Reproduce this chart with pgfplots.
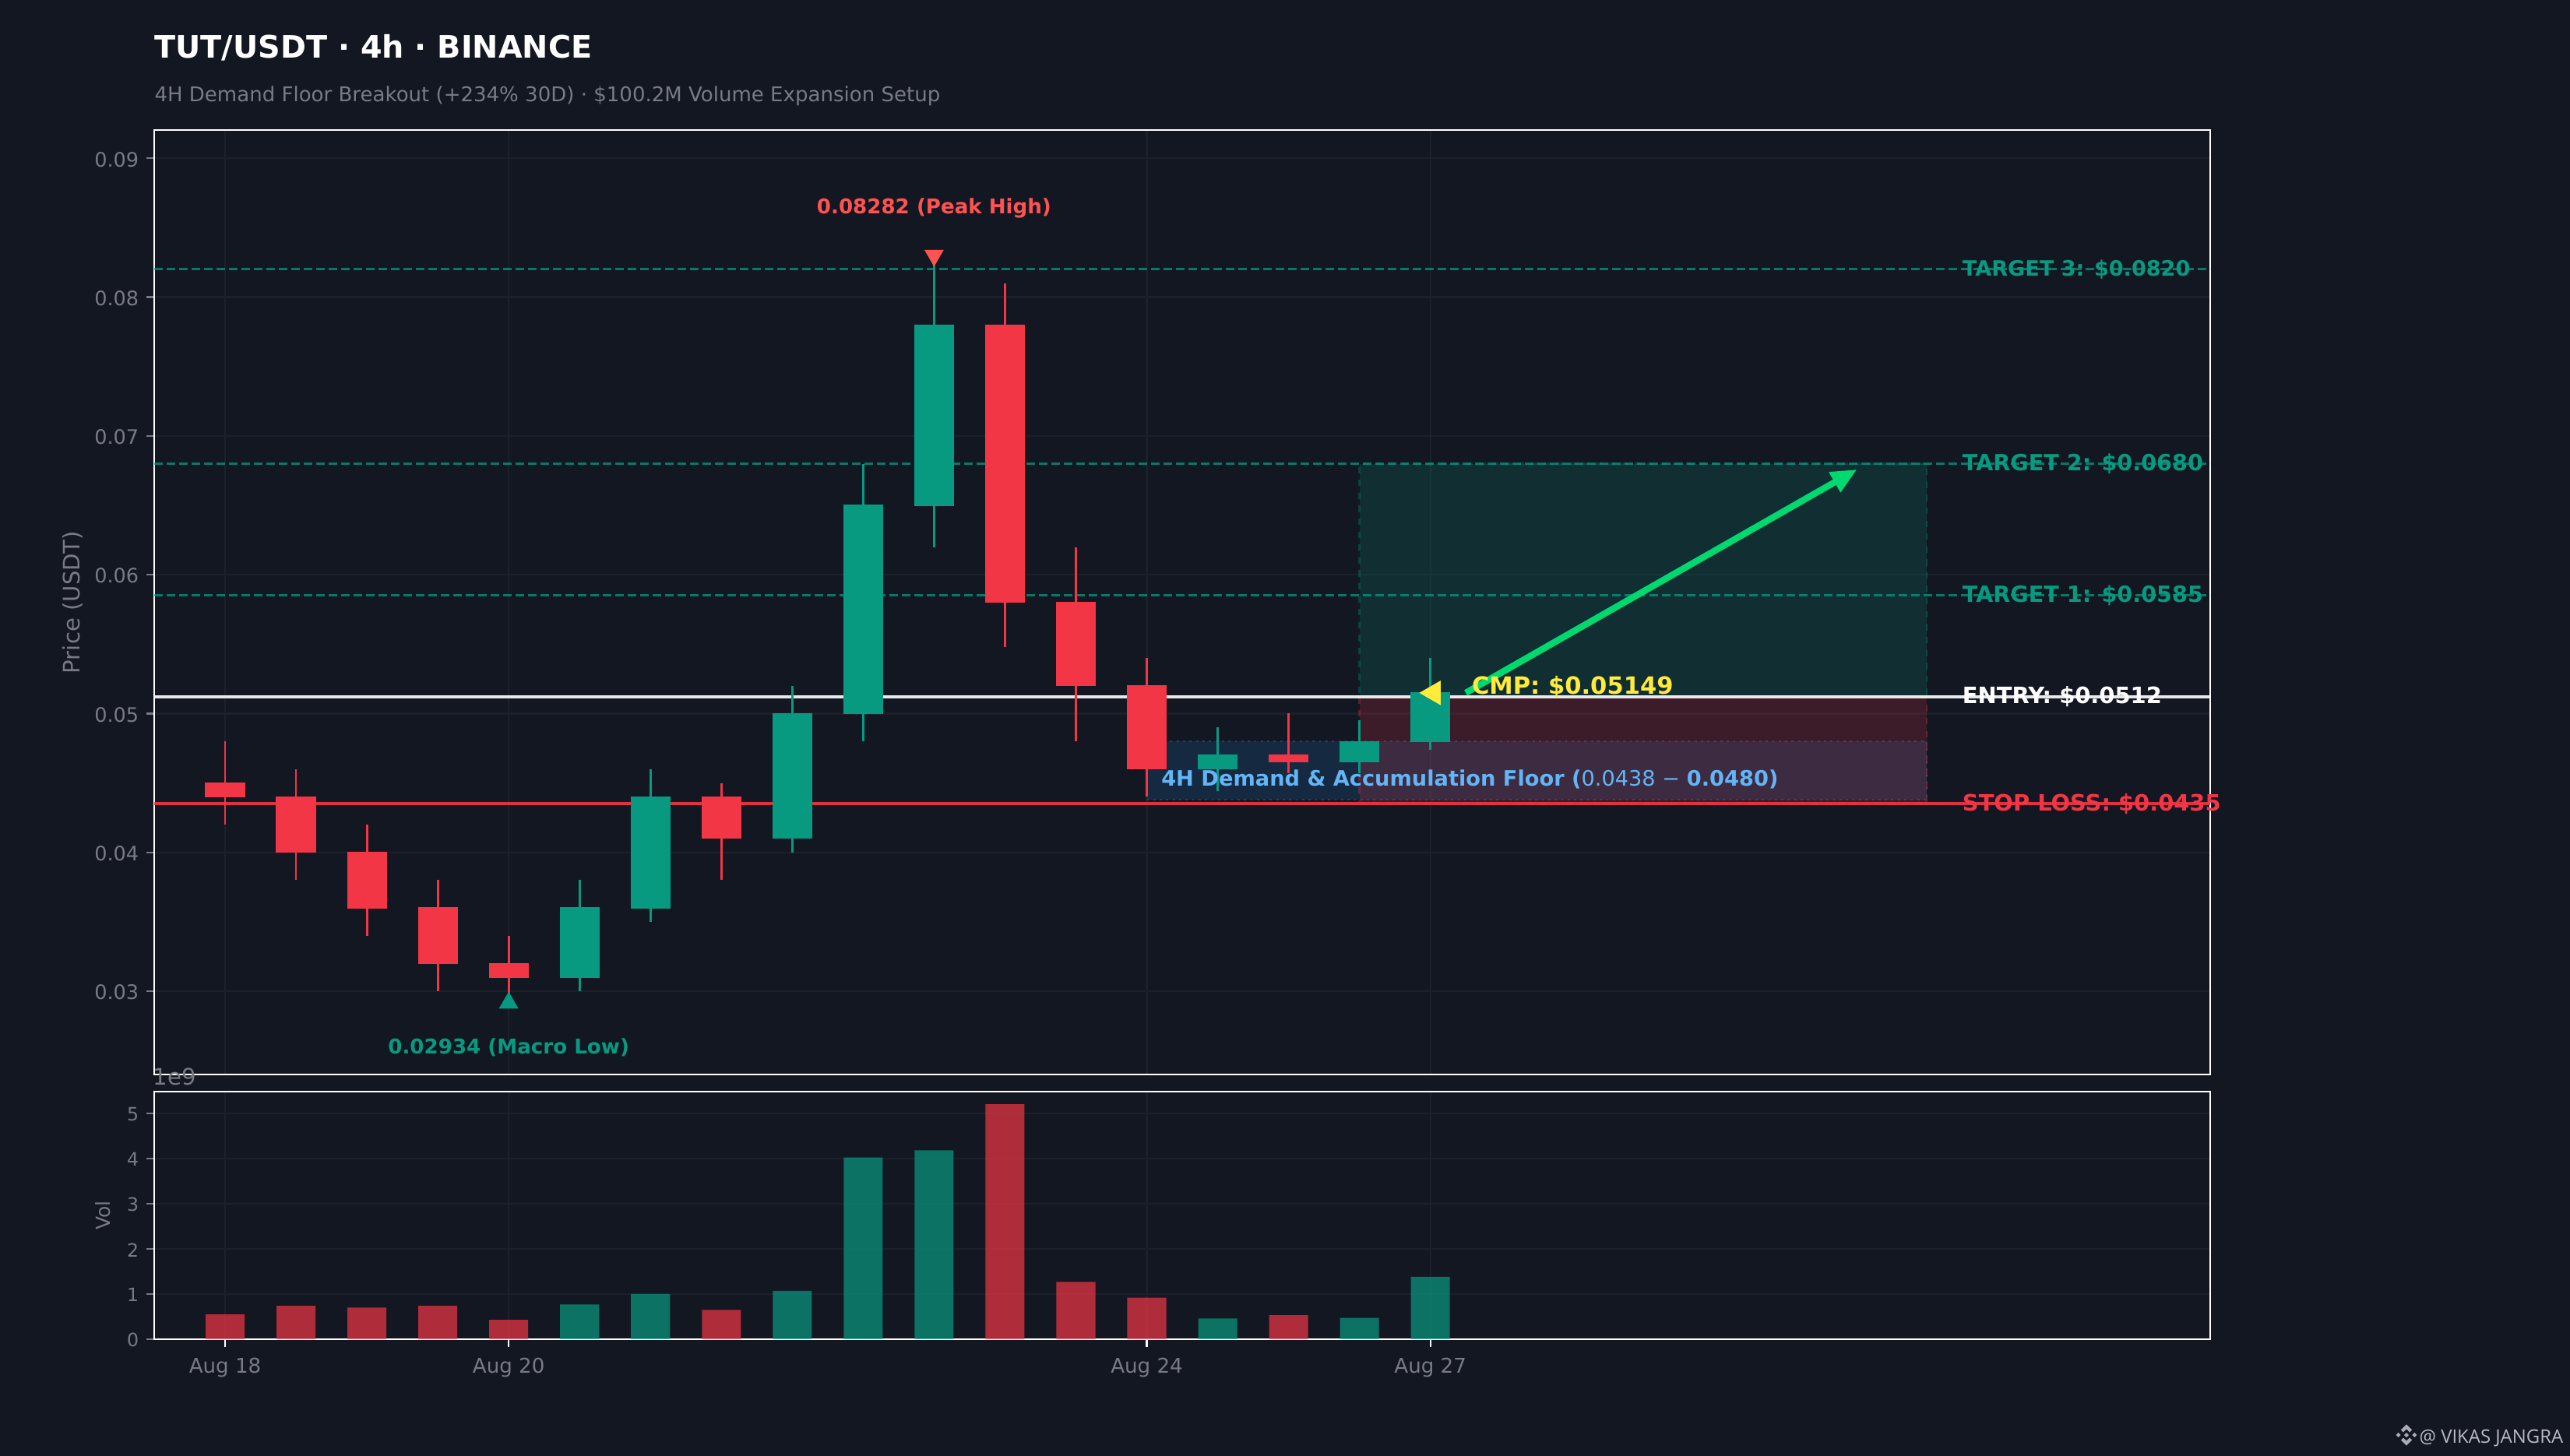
\documentclass[border=0pt]{standalone}
\usepackage{pgfplots}
\pgfplotsset{compat=1.18}
\usepackage{fontspec}
\setmainfont{DejaVu Sans}
\newfontfamily\wmfont{Open Sans}
\usetikzlibrary{arrows.meta}
\definecolor{bg}{HTML}{131722}
\definecolor{grn}{HTML}{089981}
\definecolor{rd}{HTML}{F23645}
\definecolor{gridc}{HTML}{1C202B}
\definecolor{txt}{HTML}{787B86}
\definecolor{blu}{HTML}{2196F3}
\definecolor{lblu}{HTML}{64B5F6}
\definecolor{yel}{HTML}{FFEB3B}
\definecolor{peak}{HTML}{FF5252}
\definecolor{arr}{HTML}{00D96F}
\definecolor{wm}{RGB}{183,186,196}
\newcommand\fs[1]{\fontsize{#1bp}{#1bp}\selectfont}
% idx, open, close, low, high, colour
\newcommand\candle[6]{%
  \addplot[#6,line width=1bp,forget plot] coordinates {(#1,#4)(#1,#5)};
  \addplot[draw=#6,fill=#6,line width=0.4bp,forget plot] coordinates {({#1-0.275},#2)({#1+0.275},#2)({#1+0.275},#3)({#1-0.275},#3)} --cycle;
}
\begin{document}
\begin{tikzpicture}[x=1bp,y=1bp]
\fill[bg] (0,0) rectangle (1188,673.2);
\path[use as bounding box] (0,0) rectangle (1188,673.2);
\node[anchor=base west,inner sep=0pt,white] at (71.28,646.5) {\fs{14.3}\bfseries TUT/USDT · 4h · BINANCE};
\node[anchor=base west,inner sep=0pt,txt] at (71.28,626.2) {\fs{9.37}4H Demand Floor Breakout (+234\% 30D) · \$100.2M Volume Expansion Setup};
\begin{axis}[
  at={(71.28bp,176.4bp)},anchor=south west,scale only axis,
  width=950.4bp,height=436.68bp,
  xmin=-1,xmax=28,ymin=0.0240,ymax=0.09204,
  clip mode=individual,
  axis line style={white,line width=1bp},
  xtick={0,4,13,17},xticklabels={},
  ytick={0.03,0.04,0.05,0.06,0.07,0.08,0.09},
  yticklabel style={/pgf/number format/fixed,/pgf/number format/fixed zerofill,/pgf/number format/precision=2,/pgf/number format/assume math mode=true,font=\fs{9.2},text=txt,yshift=-0.5bp},
  xtick style={draw=none},
  ytick style={txt,line width=0.8bp},
  ytick pos=left,xtick pos=bottom,tick align=outside,
  major tick length=3.6bp,
  xmajorgrids,ymajorgrids,
  grid style={gridc,line width=0.8bp},
  ylabel={Price (USDT)},
  ylabel style={font=\fs{10.5},text=txt,yshift=-1.5bp},
  scaled y ticks=false,
]
% zones
\addplot[draw=blu,draw opacity=0.3,fill=blu,fill opacity=0.15,line width=1bp,dotted] coordinates {(13,0.0438)(24,0.0438)(24,0.048)(13,0.048)} --cycle;
\addplot[draw=grn,draw opacity=0.3,fill=grn,fill opacity=0.18,line width=1bp,dashed] coordinates {(16,0.0512)(24,0.0512)(24,0.068)(16,0.068)} --cycle;
\addplot[draw=rd,draw opacity=0.3,fill=rd,fill opacity=0.18,line width=1bp,dashed] coordinates {(16,0.0435)(24,0.0435)(24,0.0512)(16,0.0512)} --cycle;
% levels
\addplot[grn,draw opacity=0.75,line width=1.1bp,dash pattern=on 4bp off 1.76bp] coordinates {(-1,0.082)(28,0.082)};
\addplot[grn,draw opacity=0.75,line width=1.1bp,dash pattern=on 4bp off 1.76bp] coordinates {(-1,0.068)(28,0.068)};
\addplot[grn,draw opacity=0.75,line width=1.1bp,dash pattern=on 4bp off 1.76bp] coordinates {(-1,0.0585)(28,0.0585)};
\addplot[white,opacity=0.9,line width=1.5bp] coordinates {(-1,0.0512)(28,0.0512)};
\addplot[rd,opacity=0.9,line width=1.5bp] coordinates {(-1,0.0435)(28,0.0435)};
% candles
\candle{0}{0.045}{0.044}{0.042}{0.048}{rd}
\candle{1}{0.044}{0.040}{0.038}{0.046}{rd}
\candle{2}{0.040}{0.036}{0.034}{0.042}{rd}
\candle{3}{0.036}{0.032}{0.030}{0.038}{rd}
\candle{4}{0.032}{0.031}{0.02934}{0.034}{rd}
\candle{5}{0.031}{0.036}{0.030}{0.038}{grn}
\candle{6}{0.036}{0.044}{0.035}{0.046}{grn}
\candle{7}{0.044}{0.041}{0.038}{0.045}{rd}
\candle{8}{0.041}{0.050}{0.040}{0.052}{grn}
\candle{9}{0.050}{0.065}{0.048}{0.068}{grn}
\candle{10}{0.065}{0.078}{0.062}{0.08282}{grn}
\candle{11}{0.078}{0.058}{0.0548}{0.081}{rd}
\candle{12}{0.058}{0.052}{0.048}{0.062}{rd}
\candle{13}{0.052}{0.046}{0.044}{0.054}{rd}
\candle{14}{0.046}{0.047}{0.0444}{0.049}{grn}
\candle{15}{0.047}{0.0465}{0.0457}{0.050}{rd}
\candle{16}{0.0465}{0.048}{0.0457}{0.0495}{grn}
\candle{17}{0.048}{0.05149}{0.0474}{0.054}{grn}
% markers
\addplot[only marks,mark=triangle*,mark size=4.8bp,color=grn,mark options={yshift=-1.2bp}] coordinates {(4,0.02934)};
\addplot[only marks,mark=triangle*,mark size=4.8bp,color=peak,mark options={rotate=180,yshift=-1.2bp}] coordinates {(10,0.08282)};
\addplot[only marks,mark=triangle*,mark size=6.2bp,color=yel,mark options={rotate=90,yshift=-1.5bp}] coordinates {(17,0.05149)};
% arrow
\addplot[arr,line width=3bp,-{Triangle[length=12bp,width=10bp]}] coordinates {(17.5,0.05149)(23.02,0.06759)};
% labels
\node[anchor=west,inner sep=0pt,text=grn] at (axis cs:24.5,0.0820) {\fs{9.75}\bfseries TARGET 3: \$0.0820};
\node[anchor=west,inner sep=0pt,text=grn] at (axis cs:24.5,0.0680) {\fs{10.3}\bfseries TARGET 2: \$0.0680};
\node[anchor=west,inner sep=0pt,text=grn] at (axis cs:24.5,0.0585) {\fs{10.3}\bfseries TARGET 1: \$0.0585};
\node[anchor=west,inner sep=0pt,text=white] at (axis cs:24.5,0.0512) {\fs{10.4}\bfseries ENTRY: \$0.0512};
\node[anchor=west,inner sep=0pt,text=rd] at (axis cs:24.5,0.0435) {\fs{10.4}\bfseries STOP LOSS: \$0.0435};
\node[anchor=west,inner sep=0pt,text=yel] at (axis cs:17.58,0.0519) {\fs{11}\bfseries CMP: \$0.05149};
\node[anchor=west,inner sep=0pt,text=lblu] at (axis cs:13.2,0.04525) {\fs{9.8}\bfseries 4H Demand \& Accumulation Floor ({\mdseries 0.0438 − }0.0480)};
\node[anchor=center,inner sep=0pt,text=peak] at (axis cs:10,0.0864) {\fs{9.4}\bfseries 0.08282 (Peak High)};
\node[anchor=center,inner sep=0pt,text=grn] at (axis cs:4,0.02595) {\fs{9.4}\bfseries 0.02934 (Macro Low)};
\end{axis}
\begin{axis}[
  at={(71.28bp,54bp)},anchor=south west,scale only axis,
  width=950.4bp,height=114.48bp,
  xmin=-1,xmax=28,ymin=0,ymax=5.48,
  clip mode=individual,
  axis line style={white,line width=1bp},
  xtick={0,4,13,17},xticklabels={Aug 18,Aug 20,Aug 24,Aug 27},
  ytick={0,1,2,3,4,5},
  xticklabel style={font=\fs{9.4},text=txt,yshift=-1.5bp},
  yticklabel style={/pgf/number format/assume math mode=true,font=\fs{8.5},text=txt,yshift=-0.5bp},
  xtick style={white,line width=0.8bp},
  ytick style={txt,line width=0.8bp},
  ytick pos=left,xtick pos=bottom,tick align=outside,
  major tick length=3.6bp,
  xmajorgrids,ymajorgrids,
  grid style={gridc,line width=0.8bp},
  ylabel={Vol},
  ylabel style={font=\fs{9},text=txt,yshift=0.7bp},
]
\addplot[ybar,bar width=0.55,bar shift=0pt,fill=rd,fill opacity=0.7,draw=none] coordinates {(0,0.55)(1,0.74)(2,0.70)(3,0.74)(4,0.43)(7,0.65)(11,5.2)(12,1.27)(13,0.92)(15,0.53)};
\addplot[ybar,bar width=0.55,bar shift=0pt,fill=grn,fill opacity=0.7,draw=none] coordinates {(5,0.77)(6,1.0)(8,1.07)(9,4.02)(10,4.18)(14,0.46)(16,0.47)(17,1.38)};
\node[anchor=south west,inner sep=0pt,text=txt,xshift=-0.6bp,yshift=2.8bp] at (rel axis cs:0,1) {\fs{10.5}1e9};
\end{axis}
\node[anchor=east,inner sep=0pt,text=wm] at (1185,8.4) {\fs{8.6}\wmfont @ VIKAS JANGRA};
\begin{scope}[shift={(1112.4,9.7)},x=4.9bp,y=4.9bp,wm!120]
\fill (0,1)--(0.52,0.48)--(0.3,0.26)--(0,0.56)--(-0.3,0.26)--(-0.52,0.48)--cycle;
\fill (0,-1)--(0.52,-0.48)--(0.3,-0.26)--(0,-0.56)--(-0.3,-0.26)--(-0.52,-0.48)--cycle;
\fill (0,0.22)--(0.22,0)--(0,-0.22)--(-0.22,0)--cycle;
\fill (0.76,0.22)--(0.98,0)--(0.76,-0.22)--(0.54,0)--cycle;
\fill (-0.76,0.22)--(-0.54,0)--(-0.76,-0.22)--(-0.98,0)--cycle;
\end{scope}
\end{tikzpicture}
\end{document}
